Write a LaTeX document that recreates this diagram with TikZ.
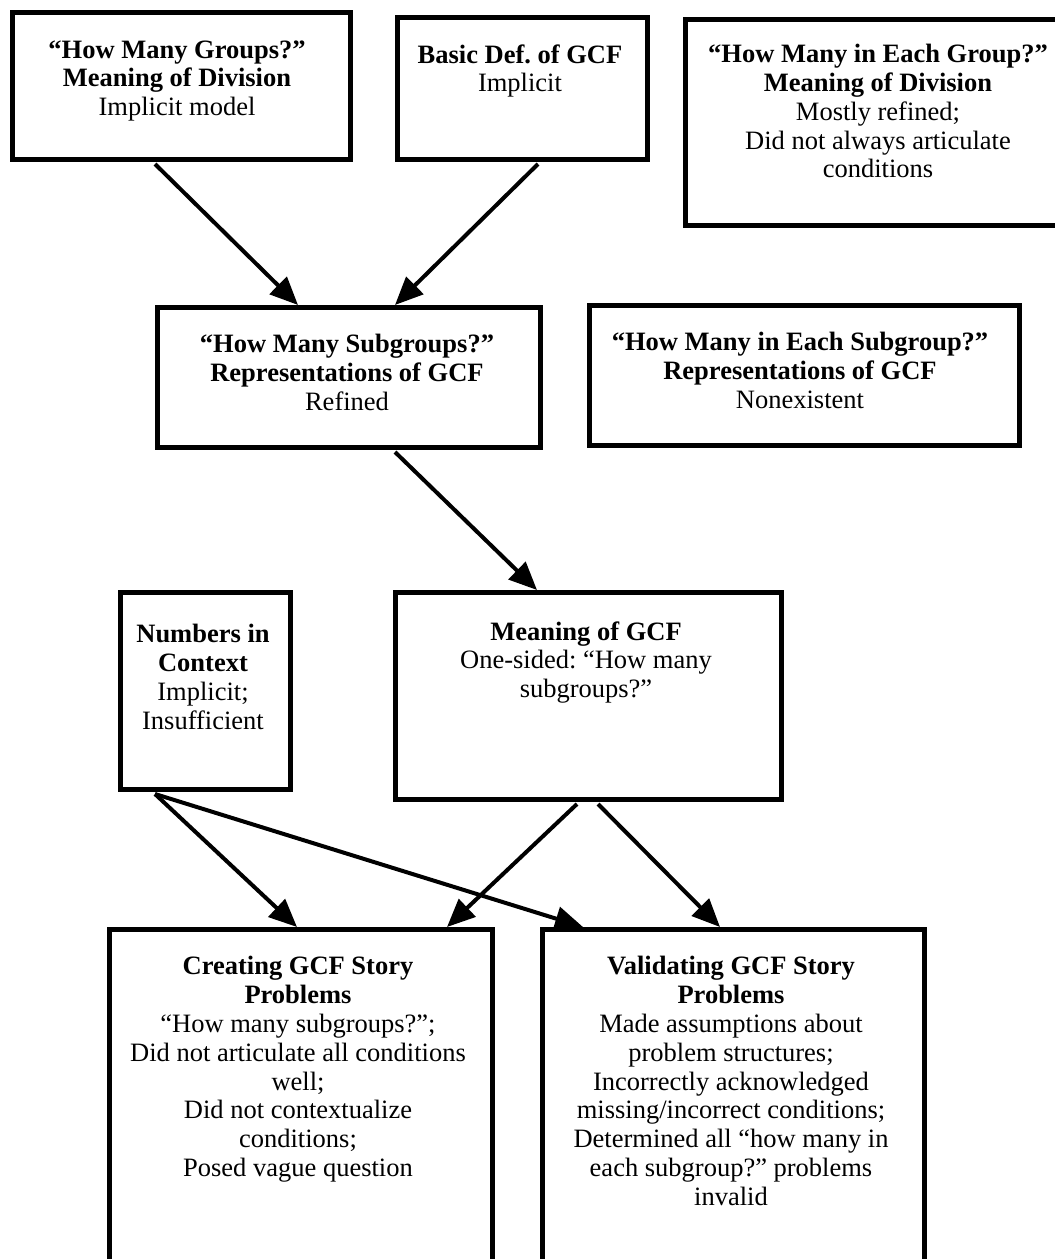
\documentclass[tikz,border=0pt]{standalone}
\usepackage{fontspec}
\setmainfont{Liberation Serif}
\usetikzlibrary{arrows.meta,calc}
\frenchspacing
\begin{document}
\begin{tikzpicture}[x=0.5pt,y=-0.5pt,
  box/.style={draw, line width=2.5pt, inner sep=0pt, anchor=north west},
  label/.style={anchor=north, align=center, inner sep=0pt,
    font=\fontsize{13.25}{14.4}\selectfont},
  link/.style={line width=2pt, -{Triangle[length=14pt,width=12pt]}}]
\useasboundingbox (0,0) rectangle (1055,1259);
\clip (0,0) rectangle (1055,1259);

% boxes
\node[box, minimum width=169pt, minimum height=73.5pt] (A) at (10,10) {};
\node[box, minimum width=125pt, minimum height=71pt] (B) at (395,15) {};
\node[box, minimum width=195pt, minimum height=103pt] (C) at (683,17) {};
\node[box, minimum width=191.5pt, minimum height=70pt] (D) at (155,305) {};
\node[box, minimum width=215pt, minimum height=70pt] (E) at (587,303) {};
\node[box, minimum width=85pt, minimum height=98.5pt] (F) at (118,590) {};
\node[box, minimum width=193pt, minimum height=103.5pt] (G) at (393,590) {};
\node[box, minimum width=191.5pt, minimum height=200pt] (H) at (107,927) {};
\node[box, minimum width=191pt, minimum height=200pt] (I) at (540,927) {};

% texts
\node[label] (tA) at (177,40) {\textbf{“How Many Groups?”}\\ \textbf{Meaning of Division}\\ Implicit model};
\node[label] (tB) at (520,44) {\textbf{Basic Def. of GCF}\\ Implicit};
\node[label] (tC) at (878,44) {\textbf{“How Many in Each Group?”}\\ \textbf{Meaning of Division}\\ Mostly refined;\\ Did not always articulate\\ conditions};
\node[label] (tD) at (347,334) {\textbf{“How Many Subgroups?”}\\ \textbf{Representations of GCF}\\ Refined};
\node[label] (tE) at (800,332) {\textbf{“How Many in Each Subgroup?”}\\ \textbf{Representations of GCF}\\ Nonexistent};
\node[label] (tF) at (203,624) {\textbf{Numbers in}\\ \textbf{Context}\\ Implicit;\\ Insufficient};
\node[label] (tG) at (586,621) {\textbf{Meaning of GCF}\\ One-sided: “How many\\ subgroups?”};
\node[label] (tH) at (298,956) {\textbf{Creating GCF Story}\\ \textbf{Problems}\\ “How many subgroups?”;\\ Did not articulate all conditions\\ well;\\ Did not contextualize\\ conditions;\\ Posed vague question};
\node[label] (tI) at (731,956) {\textbf{Validating GCF Story}\\ \textbf{Problems}\\ Made assumptions about\\ problem structures;\\ Incorrectly acknowledged\\ missing/incorrect conditions;\\ Determined all “how many in\\ each subgroup?” problems\\ invalid};

% connectors
\draw[link] ($(A.south west)+(145,2)$) -- ($(D.north west)+(143,0)$);
\draw[link] ($(B.south west)+(143,2)$) -- ($(D.north west)+(240,0)$);
\draw[link] ($(D.south west)+(240,2)$) -- ($(G.north west)+(144,0)$);
\draw[link] ($(F.south west)+(37,2)$) -- ($(H.north west)+(190,0)$);
\draw[link] ($(F.south west)+(37,2)$) -- ($(I.north west)+(43,0)$);
\draw[link] ($(G.south west)+(184,2)$) -- ($(H.north west)+(340,0)$);
\draw[link] ($(G.south west)+(205,2)$) -- ($(I.north west)+(180,0)$);
\end{tikzpicture}
\end{document}
